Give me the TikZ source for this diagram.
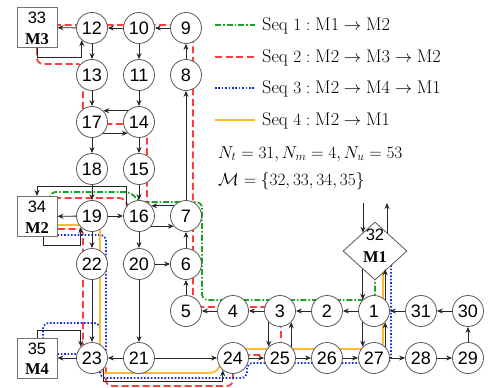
\documentclass[tikz,border=0pt]{standalone}
\usepackage{fontspec}
\newfontfamily\sansdig{Liberation Sans}
\newfontfamily\mfont{Liberation Serif}
\usetikzlibrary{arrows.meta,backgrounds,shapes.geometric}
\definecolor{seqgreen}{RGB}{30,160,40}
\definecolor{seqred}{RGB}{255,60,60}
\definecolor{seqblue}{RGB}{20,50,220}
\definecolor{seqorange}{RGB}{255,185,50}
\newcommand\legfont{\fontsize{18.3}{20}\selectfont}
\begin{document}
\begin{tikzpicture}[x=1pt,y=-1pt,
  cnode/.style={circle,draw=black!65,line width=0.8pt,fill=white,minimum size=31pt,inner sep=0pt,font=\sansdig\fontsize{18}{18}\selectfont},
  mbox/.style={rectangle,draw=black!55,line width=1pt,fill=white,minimum width=40pt,minimum height=40pt,inner sep=0pt},
  dlbl/.style={inner sep=0pt,font=\sansdig\fontsize{16.5}{16.5}\selectfont},
  mlbl/.style={inner sep=0pt,font=\mfont\bfseries\fontsize{16.5}{16.5}\selectfont},
  arr/.style={draw=black!85,line width=0.85pt,-{Stealth[length=6pt,width=5pt]}},
  gseq/.style={draw=seqgreen,line width=1.8pt,dash pattern=on 6pt off 2pt on 1.5pt off 2pt,rounded corners=6pt},
  rseq/.style={draw=seqred,line width=1.8pt,dash pattern=on 7pt off 3.5pt,rounded corners=6pt},
  bseq/.style={draw=seqblue,line width=1.8pt,dash pattern=on 1.6pt off 1.8pt,rounded corners=6pt},
  oseq/.style={draw=seqorange,line width=1.8pt,rounded corners=6pt},
  legtxt/.style={anchor=base west,inner sep=0pt,font=\legfont}
]
\useasboundingbox (0,0) rectangle (491,388);

% nodes
\node[cnode] (n12) at (92,28) {12};
\node[cnode] (n10) at (139,28) {10};
\node[cnode] (n9) at (186,28) {9};
\node[cnode] (n13) at (92,75) {13};
\node[cnode] (n11) at (139,75) {11};
\node[cnode] (n8) at (186,75) {8};
\node[cnode] (n17) at (92,122) {17};
\node[cnode] (n14) at (139,122) {14};
\node[cnode] (n18) at (92,169) {18};
\node[cnode] (n15) at (139,169) {15};
\node[cnode] (n19) at (92,216) {19};
\node[cnode] (n16) at (139,216) {16};
\node[cnode] (n7) at (186,216) {7};
\node[cnode] (n22) at (92,264) {22};
\node[cnode] (n20) at (139,264) {20};
\node[cnode] (n6) at (186,264) {6};
\node[cnode] (n5) at (186,311) {5};
\node[cnode] (n4) at (233,311) {4};
\node[cnode] (n3) at (280,311) {3};
\node[cnode] (n2) at (327,311) {2};
\node[cnode] (n1) at (374,311) {1};
\node[cnode] (n31) at (421,311) {31};
\node[cnode] (n30) at (468,311) {30};
\node[cnode] (n23) at (92,358) {23};
\node[cnode] (n21) at (139,358) {21};
\node[cnode] (n24) at (233,358) {24};
\node[cnode] (n25) at (280,358) {25};
\node[cnode] (n26) at (327,358) {26};
\node[cnode] (n27) at (374,358) {27};
\node[cnode] (n28) at (421,358) {28};
\node[cnode] (n29) at (468,358) {29};

\node[mbox] (b33) at (37,27.5) {};
\node[dlbl] (t33) at (37,18) {33};
\node[mlbl] (m33) at (37,39) {M3};
\node[mbox] (b34) at (37,216.5) {};
\node[dlbl] (t34) at (37,207) {34};
\node[mlbl] (m34) at (37,228) {M2};
\node[mbox] (b35) at (37,358) {};
\node[dlbl] (t35) at (37,348.5) {35};
\node[mlbl] (m35) at (37,369.5) {M4};

\node[diamond,draw=black!65,line width=0.8pt,fill=white,minimum width=64pt,minimum height=58pt,inner sep=0pt] (d32) at (375,251) {};
\node[dlbl] (t32) at (375,235) {32};
\node[mlbl] (m32) at (375,257) {M1};

% coloured sequences (behind the nodes)
\begin{scope}[on background layer]
\draw[gseq] (375,251) -- (375,300) -- (202,300) -- (202,202) -- (139,202) -- (131,192) -- (50,192) -- (50,216);
\draw[rseq] (37,229) -- (83,229) -- (83,358) -- (106,358) -- (106,386) -- (233,386) -- (233,355) -- (281,355) -- (281,307) -- (193,307) -- (193,25) -- (37,25);
\draw[rseq] (37,27) -- (37,64) -- (83,64) -- (83,124) -- (147,124) -- (147,214) -- (130,214) -- (125,198) -- (37,198);
\draw[bseq] (37,235) -- (106,235) -- (106,358);
\draw[bseq] (100,352) -- (100,323) -- (43,323) -- (43,358);
\draw[bseq] (37,354) -- (100,354) -- (100,378) -- (247,378) -- (247,363) -- (391,363) -- (391,251);
\draw[oseq] (37,225) -- (100,225) -- (100,373) -- (216,373) -- (224,358) -- (240,349) -- (383,349) -- (383,251);
\end{scope}

% black connectors
\draw[arr] (n9) -- (n10);
\draw[arr] (n10) -- (n12);
\draw[arr] (n12) -- (b33);
\draw[arr] (b33.south) -- ++(0,9) -| (n12.230);
\draw[arr] (n12) -- (n13);
\draw[arr] (n10) -- (n11);
\draw[arr] (n8) -- (n9);
\draw[arr] (n11) -- (n14);
\draw[arr] (n13) -- (n17);
\draw[arr] (n14.135) -- (n17.45);
\draw[arr] (n17.-45) -- (n14.-135);
\draw[arr] (n17) -- (n18);
\draw[arr] (n14) -- (n15);
\draw[arr] (n18) -- (n19);
\draw[arr] (n15) -- (n16);
\draw[arr] (n19) -- (b34);
\draw[arr] (n19) -- (n16);
\draw[arr] (n7.140) -- (n16.40);
\draw[arr] (n16.-40) -- (n7.-140);
\draw[arr] (n16.141) -- (n16.141 |- 0,186) -| (b34.north);
\draw[arr] ([xshift=6pt]b34.south) -- ++(0,8) -| (n19.225);
\draw[arr] (n19) -- (n22);
\draw[arr] (n16) -- (n20);
\draw[arr] (n20) -- (n6);
\draw[arr] (n6) -- (n7);
\draw[arr] (n5) -- (n6);
\draw[arr] (n7) -- (n8);
\draw[arr] (n4) -- (n5);
\draw[arr] (n3) -- (n4);
\draw[arr] (n2) -- (n3);
\draw[arr] (n1) -- (n2);
\draw[arr] (n31) -- (n1);
\draw[arr] (n30) -- (n31);
\draw[arr] (n29) -- (n30);
\draw[arr] (n27) -- (n28);
\draw[arr] (n28) -- (n29);
\draw[arr] (n26) -- (n27);
\draw[arr] (n25) -- (n26);
\draw[arr] (n24) -- (n25);
\draw[arr] (n21) -- (n24);
\draw[arr] (n21) -- (n23);
\draw[arr] (n23) -- (b35);
\draw[arr] (n22) -- (n23);
\draw[arr] (n20) -- (n21);
\draw[arr] (n3.-135) -- (n25.135);
\draw[arr] (n25.45) -- (n3.-45);
\draw[arr] (n1.-135) -- (n27.135);
\draw[arr] (n27.45) -- (n1.-45);
\coordinate (in32) at (363,203);
\coordinate (out32) at (387,203);
\draw[arr] (in32) -- (in32 |- d32.124);
\draw[arr] (out32 |- d32.56) -- (out32);
\draw[arr] (n1.135 |- d32.236) -- (n1.135);
\draw[arr] (n1.45) -- (n1.45 |- d32.-56);
\draw[arr] (b35.north) -- ++(0,-7) -| (n23.135);
\draw[arr] (n23.-45) -- (n23.-45 |- 0,381) -| (n24.230);

% legend
\coordinate (lg1a) at (215,25); \coordinate (lg1b) at (255,25);
\coordinate (lg2a) at (215,57); \coordinate (lg2b) at (255,57);
\coordinate (lg3a) at (215,88); \coordinate (lg3b) at (255,88);
\coordinate (lg4a) at (215,120); \coordinate (lg4b) at (255,120);
\draw[gseq] (lg1a) -- (lg1b);
\draw[rseq] (lg2a) -- (lg2b);
\draw[bseq] (lg3a) -- (lg3b);
\draw[oseq] (lg4a) -- (lg4b);
\node[legtxt] (l1) at (262,30.7) {$\mathrm{Seq}\ 1 : \mathrm{M1} \rightarrow \mathrm{M2}$};
\node[legtxt] (l2) at (262,62.2) {$\mathrm{Seq}\ 2 : \mathrm{M2} \rightarrow \mathrm{M3} \rightarrow \mathrm{M2}$};
\node[legtxt] (l3) at (262,93.6) {$\mathrm{Seq}\ 3 : \mathrm{M2} \rightarrow \mathrm{M4} \rightarrow \mathrm{M1}$};
\node[legtxt] (l4) at (262,125) {$\mathrm{Seq}\ 4 : \mathrm{M2} \rightarrow \mathrm{M1}$};
\node[legtxt] (f1) at (218,158) {$N_t = 31, N_m = 4, N_u = 53$};
\node[legtxt] (f2) at (218,185) {$\mathcal{M} = \{32, 33, 34, 35\}$};
\end{tikzpicture}
\end{document}
